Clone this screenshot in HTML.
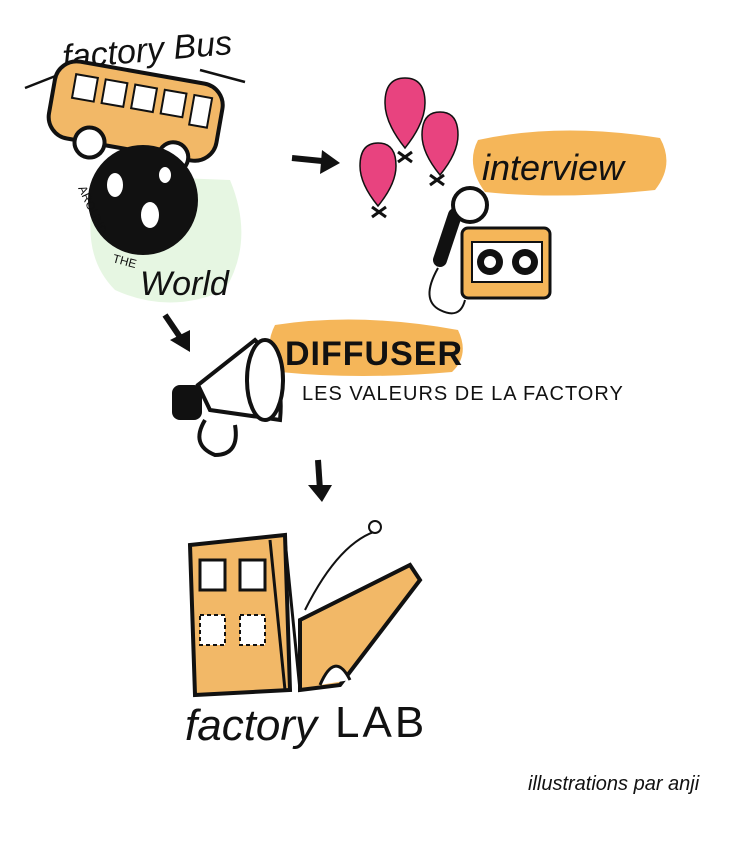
<!DOCTYPE html>
<html><head><meta charset="utf-8"><style>
html,body{margin:0;padding:0;background:#fff;}
svg{display:block}
text{font-family:"Liberation Sans",sans-serif;}
</style></head><body>
<svg width="754" height="841" viewBox="0 0 754 841" xmlns="http://www.w3.org/2000/svg">
<path d="M100 175 Q75 250 115 290 Q170 315 225 290 Q255 240 230 180 Z" fill="#e3f5df" opacity="0.9"/>
<text x="62" y="62" font-size="34" font-style="italic" font-family="Liberation Serif" fill="#111" transform="rotate(-5 140 50)">factory Bus</text>
<path d="M25 88 L58 75 M200 70 L245 82" stroke="#111" stroke-width="2.5" fill="none"/>
<g transform="rotate(10 135 115)">
<rect x="50" y="72" width="170" height="78" rx="22" fill="#f2b867" stroke="#111" stroke-width="4"/>
<rect x="70" y="85" width="22" height="24" fill="#fff" stroke="#111" stroke-width="2"/>
<rect x="100" y="85" width="22" height="24" fill="#fff" stroke="#111" stroke-width="2"/>
<rect x="130" y="85" width="22" height="24" fill="#fff" stroke="#111" stroke-width="2"/>
<rect x="160" y="85" width="22" height="24" fill="#fff" stroke="#111" stroke-width="2"/>
<rect x="190" y="85" width="18" height="30" fill="#fff" stroke="#111" stroke-width="2"/>
<circle cx="95" cy="150" r="15" fill="#fff" stroke="#111" stroke-width="4"/>
<circle cx="180" cy="150" r="15" fill="#fff" stroke="#111" stroke-width="4"/>
</g>
<circle cx="143" cy="200" r="55" fill="#111"/>
<ellipse cx="115" cy="185" rx="8" ry="12" fill="#fff"/>
<ellipse cx="150" cy="215" rx="9" ry="13" fill="#fff"/>
<ellipse cx="165" cy="175" rx="6" ry="8" fill="#fff"/>
<text x="0" y="0" font-size="12" fill="#111" transform="translate(78 188) rotate(65)">AROUND</text>
<text x="112" y="262" font-size="12" fill="#111" transform="rotate(15 112 262)">THE</text>
<text x="140" y="295" font-size="34" font-style="italic" font-family="Liberation Serif" fill="#111">World</text>
<path d="M292 158 L332 162" stroke="#111" stroke-width="6"/><path d="M322 150 L340 163 L320 174 Z" fill="#111"/>
<g fill="#e8437f" stroke="#111" stroke-width="1.5">
<path d="M405 78 q-20 0 -20 25 q0 20 20 45 q20 -25 20 -45 q0 -25 -20 -25z"/>
<path d="M440 112 q-18 0 -18 23 q0 18 18 40 q18 -22 18 -40 q0 -23 -18 -23z"/>
<path d="M378 143 q-18 0 -18 23 q0 18 18 40 q18 -22 18 -40 q0 -23 -18 -23z"/>
</g>
<g stroke="#111" stroke-width="3"><path d="M398 152 l14 10 m0 -10 l-14 10 M430 175 l14 10 m0 -10 l-14 10 M372 207 l14 10 m0 -10 l-14 10"/></g>
<path d="M478 140 Q560 122 660 138 Q675 165 655 190 Q560 200 485 192 Q465 165 478 140Z" fill="#f5b659"/>
<text x="482" y="180" font-size="36" font-family="Liberation Serif" font-style="italic" fill="#111">interview</text>
<path d="M440 260 L455 215" stroke="#111" stroke-width="14" stroke-linecap="round"/>
<circle cx="470" cy="205" r="17" fill="#fff" stroke="#111" stroke-width="4"/>
<path d="M438 268 Q420 300 440 310 Q460 320 465 300" stroke="#111" stroke-width="2" fill="none"/>
<rect x="462" y="228" width="88" height="70" rx="6" fill="#f5b659" stroke="#111" stroke-width="3"/>
<rect x="472" y="242" width="70" height="40" fill="#fff" stroke="#111" stroke-width="2"/>
<circle cx="490" cy="262" r="13" fill="#111"/><circle cx="490" cy="262" r="6" fill="#fff"/>
<circle cx="525" cy="262" r="13" fill="#111"/><circle cx="525" cy="262" r="6" fill="#fff"/>
<path d="M165 315 L182 340" stroke="#111" stroke-width="6"/><path d="M170 340 L190 352 L190 330 Z" fill="#111"/>
<path d="M275 325 Q360 312 458 330 Q470 355 452 372 Q360 380 280 372 Q262 350 275 325Z" fill="#f5b659"/>
<text x="285" y="365" font-size="34" font-weight="bold" fill="#111" letter-spacing="1">DIFFUSER</text>
<text x="302" y="400" font-size="20" fill="#111" letter-spacing="1">LES VALEURS DE LA FACTORY</text>
<path d="M198 385 L255 340 Q285 370 280 420 L210 410 Z" fill="#fff" stroke="#111" stroke-width="4"/>
<ellipse cx="265" cy="380" rx="18" ry="40" fill="#fff" stroke="#111" stroke-width="4"/>
<rect x="172" y="385" width="30" height="35" rx="8" fill="#111"/>
<path d="M205 420 Q190 445 215 455 Q240 455 235 425" stroke="#111" stroke-width="4" fill="none"/>
<path d="M318 460 L320 490" stroke="#111" stroke-width="6"/><path d="M308 485 L322 502 L332 485 Z" fill="#111"/>
<path d="M190 545 L285 535 L290 690 L195 695 Z" fill="#f2b867" stroke="#111" stroke-width="4"/>
<rect x="200" y="560" width="25" height="30" fill="#fff" stroke="#111" stroke-width="3"/>
<rect x="240" y="560" width="25" height="30" fill="#fff" stroke="#111" stroke-width="3"/>
<rect x="200" y="615" width="25" height="30" fill="#fff" stroke="#111" stroke-dasharray="4 3" stroke-width="2"/>
<rect x="240" y="615" width="25" height="30" fill="#fff" stroke="#111" stroke-dasharray="4 3" stroke-width="2"/>
<path d="M270 540 L285 690 M285 540 L300 690" stroke="#111" stroke-width="3"/>
<path d="M300 620 L410 565 L420 580 L340 685 L300 690 Z" fill="#f2b867" stroke="#111" stroke-width="4"/>
<path d="M320 685 Q335 650 350 680" stroke="#111" stroke-width="3" fill="#fff"/>
<path d="M305 610 Q340 540 380 530" stroke="#111" stroke-width="2" fill="none"/>
<circle cx="375" cy="527" r="6" fill="#fff" stroke="#111" stroke-width="2"/>
<text x="185" y="740" font-size="44" font-family="Liberation Serif" font-style="italic" fill="#111">factory</text>
<text x="335" y="737" font-size="44" fill="#111" letter-spacing="3">LAB</text>
<text x="528" y="790" font-size="20" font-family="Liberation Serif" font-style="italic" fill="#111">illustrations par anji</text>
</svg>
</body></html>
